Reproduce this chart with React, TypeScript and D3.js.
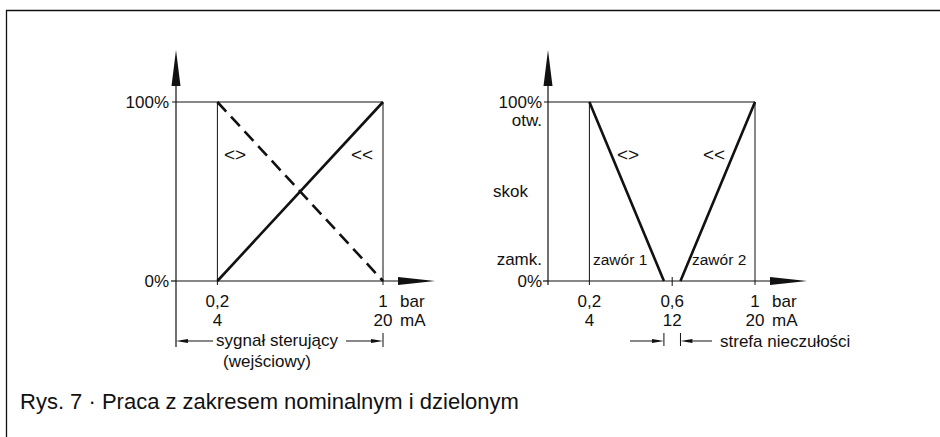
import React from "react";
import * as d3 from "d3";

// ---- data ----
const leftBarTicks = [0.2, 1];
const leftBarLabels = ["0,2", "1"];
const leftMaLabels = ["4", "20"];
const rightBarTicks = [0.2, 0.6, 1];
const rightBarLabels = ["0,2", "0,6", "1"];
const rightMaLabels = ["4", "12", "20"];
const yLabels = ["0%", "100%"];
const risingSeries: [number, number][] = [[0.2, 0], [1, 100]];
const fallingSeries: [number, number][] = [[0.2, 100], [1, 0]];
const valve1Series: [number, number][] = [[0.2, 100], [0.56, 0]];
const valve2Series: [number, number][] = [[0.64, 0], [1, 100]];
const caption = "Rys. 7 · Praca z zakresem nominalnym i dzielonym";

const W = 940;
const H = 437;
const FONT = "'Liberation Sans', Arial, sans-serif";

const y = d3.scaleLinear().domain([0, 100]).range([281, 102]);
const xL = d3.scaleLinear().domain([0, 1]).range([176, 383]);
const xR = d3.scaleLinear().domain([0, 1]).range([548, 755]);

function ArrowUp({ x, tip, base }: { x: number; tip: number; base: number }) {
  return <path d={`M${x},${tip} L${x + 4.5},${base} L${x - 4.5},${base} Z`} fill="#111" />;
}
function ArrowRight({ tip, base, yy }: { tip: number; base: number; yy: number }) {
  return <path d={`M${tip},${yy} L${base},${yy - 4} L${base},${yy + 4} Z`} fill="#111" />;
}
function DimArrow({ from, to, yy }: { from: number; to: number; yy: number }) {
  const dir = to > from ? 1 : -1;
  const hb = to - dir * 12;
  return (
    <g>
      <line x1={from} y1={yy} x2={hb} y2={yy} stroke="#111" strokeWidth={1} />
      <path d={`M${to},${yy} L${hb},${yy - 2} L${hb},${yy + 2} Z`} fill="#111" />
    </g>
  );
}

export default function App() {
  const line = (sx: d3.ScaleLinear<number, number>) =>
    d3.line<[number, number]>().x((d) => sx(d[0])).y((d) => y(d[1]));
  const lineL = line(xL);
  const lineR = line(xR);
  const y0 = y(0);
  const y100 = y(100);
  const lab = { fontFamily: FONT, fontSize: 17, fill: "#111" } as const;
  const sym = { fontFamily: FONT, fontSize: 19, fill: "#111" } as const;
  const small = { fontFamily: FONT, fontSize: 15.5, fill: "#111" } as const;

  const axes = (sx: d3.ScaleLinear<number, number>, bottomExt: number) => {
    const ax = sx(0);
    const x1 = sx(1);
    return (
      <g>
        <line x1={ax} y1={84} x2={ax} y2={bottomExt} stroke="#111" strokeWidth={1.2} />
        <ArrowUp x={ax} tip={50} base={86} />
        <line x1={ax} y1={y0} x2={ax + 224} y2={y0} stroke="#111" strokeWidth={1.2} />
        <ArrowRight tip={ax + 259} base={ax + 222} yy={y0} />
        <line x1={ax - 4} y1={y100} x2={x1} y2={y100} stroke="#111" strokeWidth={1} />
        <line x1={ax - 5} y1={y0} x2={ax} y2={y0} stroke="#111" strokeWidth={1.2} />
        <line x1={sx(0.2)} y1={y100} x2={sx(0.2)} y2={y0 + 4} stroke="#111" strokeWidth={1} />
        <line x1={x1} y1={y100} x2={x1} y2={y0 + 4} stroke="#111" strokeWidth={1} />
        <text x={x1 + 17} y={307} {...lab}>bar</text>
        <text x={x1 + 17} y={326} {...lab}>mA</text>
      </g>
    );
  };

  return (
    <svg width={W} height={H} style={{ position: "absolute", left: 0, top: 0, background: "#fff" }}>
      <rect x={0} y={0} width={W} height={H} fill="#fff" />
      {/* frame */}
      <path d={`M6.5,${H} L6.5,10.5 L${W},10.5`} fill="none" stroke="#111" strokeWidth={1.3} />

      {/* ---- left chart ---- */}
      {axes(xL, 347)}
      <text x={169} y={108} textAnchor="end" {...lab}>{yLabels[1]}</text>
      <text x={169} y={287} textAnchor="end" {...lab}>{yLabels[0]}</text>
      {leftBarTicks.map((t, i) => (
        <g key={"lt" + i}>
          <text x={xL(t)} y={307} textAnchor="middle" {...lab}>{leftBarLabels[i]}</text>
          <text x={xL(t)} y={326} textAnchor="middle" {...lab}>{leftMaLabels[i]}</text>
        </g>
      ))}
      <path d={lineL(risingSeries) || ""} fill="none" stroke="#111" strokeWidth={2.6} />
      <path d={lineL(fallingSeries) || ""} fill="none" stroke="#111" strokeWidth={2.6} strokeDasharray="13 7" />
      <text x={235} y={161} textAnchor="middle" {...sym}>{"<>"}</text>
      <text x={362} y={161} textAnchor="middle" {...sym}>{"<<"}</text>
      {/* dimension */}
      <line x1={xL(1)} y1={333} x2={xL(1)} y2={347} stroke="#111" strokeWidth={1} />
      <DimArrow from={213} to={xL(0)} yy={341} />
      <DimArrow from={346} to={xL(1)} yy={341} />
      <text x={277} y={346} textAnchor="middle" {...lab}>sygnał sterujący</text>
      <text x={267} y={367} textAnchor="middle" {...lab}>(wejściowy)</text>

      {/* ---- right chart ---- */}
      {axes(xR, 285)}
      <text x={542} y={108} textAnchor="end" {...lab}>{yLabels[1]}</text>
      <text x={542} y={126} textAnchor="end" {...lab}>otw.</text>
      <text x={528} y={197} textAnchor="end" {...lab}>skok</text>
      <text x={542} y={265} textAnchor="end" {...lab}>zamk.</text>
      <text x={542} y={287} textAnchor="end" {...lab}>{yLabels[0]}</text>
      {rightBarTicks.map((t, i) => (
        <g key={"rt" + i}>
          <text x={xR(t)} y={307} textAnchor="middle" {...lab}>{rightBarLabels[i]}</text>
          <text x={xR(t)} y={326} textAnchor="middle" {...lab}>{rightMaLabels[i]}</text>
        </g>
      ))}
      <line x1={xR(0.6)} y1={y0 - 4} x2={xR(0.6)} y2={y0 + 5} stroke="#111" strokeWidth={1} />
      <path d={lineR(valve1Series) || ""} fill="none" stroke="#111" strokeWidth={2.6} />
      <path d={lineR(valve2Series) || ""} fill="none" stroke="#111" strokeWidth={2.6} />
      <text x={628} y={161} textAnchor="middle" {...sym}>{"<>"}</text>
      <text x={714} y={161} textAnchor="middle" {...sym}>{"<<"}</text>
      <text x={593} y={265} {...small}>zawór 1</text>
      <text x={692} y={265} {...small}>zawór 2</text>
      {/* dead zone dimension */}
      <line x1={xR(valve1Series[1][0])} y1={333} x2={xR(valve1Series[1][0])} y2={346} stroke="#111" strokeWidth={1} />
      <line x1={xR(valve2Series[0][0])} y1={333} x2={xR(valve2Series[0][0])} y2={346} stroke="#111" strokeWidth={1} />
      <DimArrow from={630} to={xR(valve1Series[1][0])} yy={341} />
      <DimArrow from={712} to={xR(valve2Series[0][0])} yy={341} />
      <text x={720} y={347} {...lab}>strefa nieczułości</text>

      {/* caption */}
      <text x={20} y={409} fontFamily={FONT} fontSize={22} fill="#111">{caption}</text>
    </svg>
  );
}
